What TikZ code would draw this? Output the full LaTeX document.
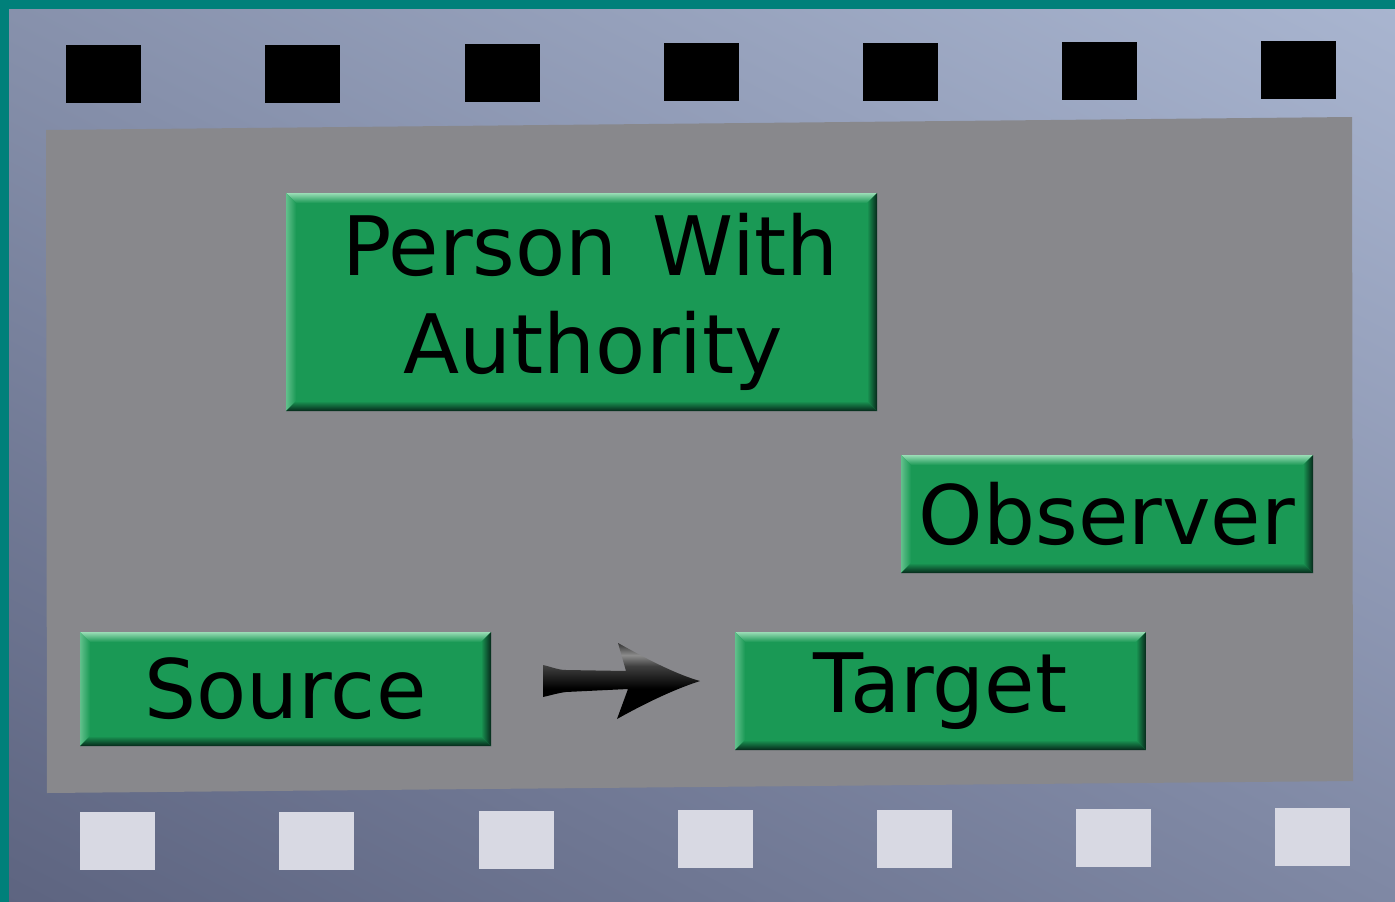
\documentclass[tikz,border=0pt]{standalone}
\usepackage{fontspec}
\newfontfamily\btnfont{DejaVu Sans}
\usetikzlibrary{calc}

\definecolor{frameTeal}{HTML}{00807A}
\definecolor{panelGray}{HTML}{88888C}
\definecolor{holeLight}{HTML}{D8D9E3}
\definecolor{btnGreen}{HTML}{1A9955}
\definecolor{btnHi}{HTML}{9ADDB6}
\definecolor{btnHiSide}{HTML}{62C08C}
\definecolor{btnLo}{HTML}{06281A}

% strip background: colour rises linearly toward the upper right
\pgfdeclarefunctionalshading{stripfield}{\pgfpoint{0bp}{0bp}}{\pgfpoint{100bp}{100bp}}{}{
  2 copy 0.0033 mul exch 0.00266 mul add 0.216 add
  3 1 roll
  2 copy 0.00356 mul exch 0.00282 mul add 0.2325 add
  3 1 roll
  0.00346 mul exch 0.00282 mul add 0.345 add
}

% glossy black for the arrow: dark body, grey sheen near the shaft top
\pgfdeclareverticalshading{arrowgloss}{100bp}{
  color(0bp)=(black); color(45bp)=(black); color(60bp)=(black!75);
  color(67bp)=(black!45); color(75bp)=(black!80); color(100bp)=(black!85)}

\tikzset{
  btn/.style={
    fill=btnGreen, inner sep=0pt, align=center,
    font=\btnfont\fontsize{82}{98}\selectfont,
    path picture={
      \coordinate (bnw) at (path picture bounding box.north west);
      \coordinate (bne) at (path picture bounding box.north east);
      \coordinate (bsw) at (path picture bounding box.south west);
      \coordinate (bse) at (path picture bounding box.south east);
      % lit top edge
      \shade[top color=btnHi, bottom color=btnGreen]
        (bnw) -- (bne) -- ($(bne)+(-10pt,-10pt)$) -- ($(bnw)+(10pt,-10pt)$) -- cycle;
      % lit left edge
      \shade[left color=btnHiSide, right color=btnGreen]
        (bnw) -- ($(bnw)+(10pt,-10pt)$) -- ($(bsw)+(10pt,10pt)$) -- (bsw) -- cycle;
      % shadowed bottom edge
      \shade[top color=btnGreen, bottom color=btnLo]
        (bsw) -- ($(bsw)+(10pt,10pt)$) -- ($(bse)+(-10pt,10pt)$) -- (bse) -- cycle;
      % shadowed right edge
      \shade[left color=btnGreen, right color=btnLo]
        (bne) -- (bse) -- ($(bse)+(-10pt,10pt)$) -- ($(bne)+(-10pt,-10pt)$) -- cycle;
    }
  },
  hole/.style={minimum width=75pt, minimum height=58pt, inner sep=0pt, anchor=north west}
}

\begin{document}
\begin{tikzpicture}[x=1pt,y=-1pt]
  \useasboundingbox (0,0) rectangle (1395,902);

  % film strip background
  \shade[shading=stripfield] (0,0) rectangle (1395,902);
  \fill[frameTeal] (0,0) rectangle (1395,9);
  \fill[frameTeal] (0,0) rectangle (9,902);

  % sprocket holes
  \foreach \i in {0,...,6} {
    \node[hole, fill=black] (top\i) at ({66+199.2*\i},{45-0.67*\i}) {};
    \node[hole, fill=holeLight] (bot\i) at ({80+199.2*\i},{812-0.67*\i}) {};
  }

  % frame
  \fill[panelGray] (46,130) -- (1352,117) -- (1353,781) -- (47,793) -- cycle;

  % buttons
  \node[btn, minimum width=591pt, minimum height=218pt] (pwa) at (581.5,302)
    {\hspace*{18pt}Person\hskip 35pt With\\\hspace*{24pt}Authority};
  \node[btn, minimum width=412pt, minimum height=118pt] (obs) at (1107,514) {Observer};
  \node[btn, minimum width=411pt, minimum height=114pt] (src) at (285.5,689) {Source};
  \node[btn, minimum width=411pt, minimum height=118pt] (tgt) at (940.5,691) {Target};

  % arrow from source to target
  \shade[shading=arrowgloss]
    (543,665) .. controls (552,667) and (558,670) .. (566,670)
    -- (626,671) -- (618,643)
    .. controls (645,658) and (675,674) .. (700,681)
    .. controls (672,690) and (642,705) .. (617,719)
    -- (628,689) -- (566,692)
    .. controls (558,693) and (552,695) .. (543,697) -- cycle;
\end{tikzpicture}
\end{document}
